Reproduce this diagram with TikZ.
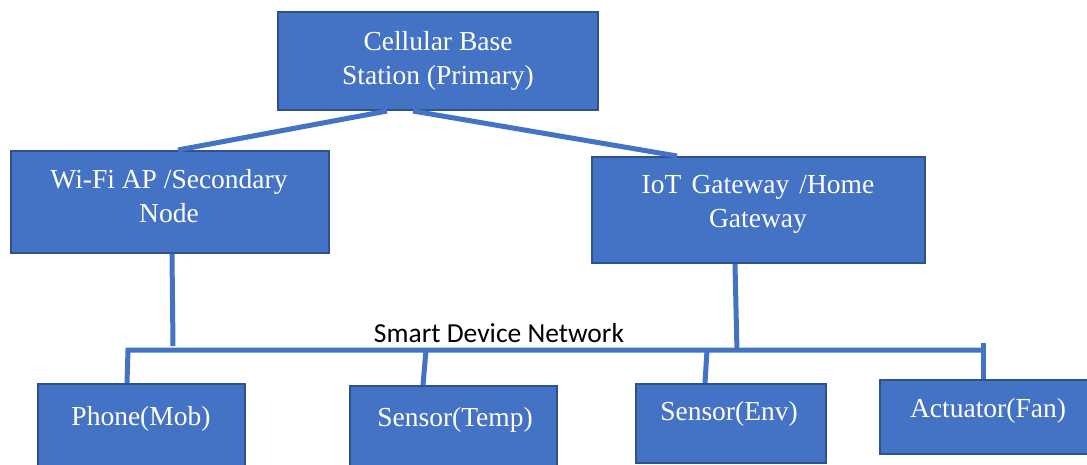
\documentclass[tikz,border=0pt]{standalone}
\usepackage{fontspec}
\setmainfont{Liberation Serif}
\newfontfamily\calibrifont{Carlito}
\definecolor{boxblue}{HTML}{4472C4}
\definecolor{boxedge}{HTML}{2F528F}
\begin{document}
\begin{tikzpicture}[x=1pt,y=-1pt,
  box/.style={draw=boxedge, line width=2pt, fill=boxblue, rectangle, inner sep=0pt},
  txt/.style={text=white, inner sep=0pt, align=center, font=\fontsize{27.5}{34}\selectfont},
  link/.style={draw=boxblue, line width=5pt},
  netlabel/.style={text=black, inner sep=0pt, font=\calibrifont\fontsize{27.5}{33}\selectfont}]
\clip (0,0) rectangle (1087,464);
\useasboundingbox (0,0) rectangle (1087,464);
% boxes
\node[box, minimum width=320, minimum height=98] (top) at (438,61) {};
\node[box, minimum width=318, minimum height=102] (wifi) at (170,202) {};
\node[box, minimum width=333, minimum height=106] (iot) at (758.5,210) {};
\node[box, minimum width=207, minimum height=96] (phone) at (141.5,432) {};
\node[box, minimum width=207, minimum height=94] (temp) at (453.5,433) {};
\node[box, minimum width=190, minimum height=79] (env) at (731,423.5) {};
\node[box, minimum width=208, minimum height=74] (act) at (984,417) {};
% texts
\node[txt] (topT) at (438,60.6) {Cellular Base\\Station (Primary)};
\node[txt] (wifiT) at (169,196.3) {Wi-Fi AP /Secondary\\Node};
\node[txt] (iotT) at (758,204.6) {IoT\hspace{0.12em} Gateway\hspace{0.12em} /Home\\Gateway};
\node[txt, anchor=base] (phoneT) at (141,425) {Phone(Mob)};
\node[txt, anchor=base] (tempT) at (455,426) {Sensor(Temp)};
\node[txt, anchor=base] (envT) at (729,420) {Sensor(Env)};
\node[txt, anchor=base] (actT) at (988,417) {Actuator(Fan)};
\node[netlabel, anchor=base] (net) at (499,342) {Smart Device Network};
% bus coordinates
\coordinate (busL) at (128,350);
\coordinate (busR) at (983,350);
\coordinate (wifiEnd) at (173,346);
\coordinate (iotEnd) at (737,352);
\coordinate (tTap) at (426,350);
\coordinate (eTap) at (707,350);
\coordinate (aTick) at (983,343);
% connectors
\draw[link] ([xshift=-51pt]top.south) -- ([xshift=8pt]wifi.north);
\draw[link] ([xshift=-25pt]top.south) -- ([xshift=-81.5pt]iot.north);
\draw[link] ([xshift=2pt]wifi.south) -- (wifiEnd);
\draw[link] ([xshift=-23.5pt]iot.south) -- (iotEnd);
\draw[link] ([xshift=-14.5pt]phone.north) -- (busL) -- (busR);
\draw[link] (aTick) -- ([xshift=-1pt]act.north);
\draw[link] (tTap) -- ([xshift=-30.5pt]temp.north);
\draw[link] (eTap) -- ([xshift=-26pt]env.north);
\end{tikzpicture}
\end{document}
